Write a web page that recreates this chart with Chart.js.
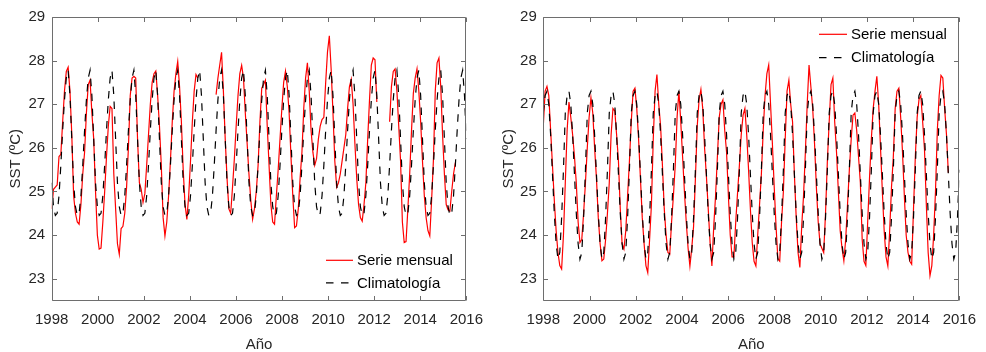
<!DOCTYPE html>
<html><head><meta charset="utf-8">
<script src="https://cdn.jsdelivr.net/npm/chart.js@4/dist/chart.umd.min.js"></script>
<style>
html,body{margin:0;padding:0;background:#fff;}
#wrap{position:relative;width:986px;height:352px;overflow:hidden;}
.box{position:absolute;top:0;width:493px;height:352px;}
canvas{display:block;}
</style></head><body>
<div id="wrap">
<div class="box" style="left:0"><canvas id="c1" width="493" height="352"></canvas></div>
<div class="box" style="left:493px"><canvas id="c2" width="493" height="352"></canvas></div>
</div>
<script>
// ---- axis labels / ticks ----
const startYear = 1998, endYear = 2016;
const xTicks = [1998, 2000, 2002, 2004, 2006, 2008, 2010, 2012, 2014, 2016];
const yTicks = [23, 24, 25, 26, 27, 28, 29];
const seriesNames = ['Serie mensual', 'Climatología'];

// ---- monthly climatology (12 values, repeats each cycle) ----
const climLeft  = [25.2, 24.65, 24.45, 24.5, 24.9, 25.6, 26.4, 27.1, 27.6, 27.78, 27.2, 26.2];
const climRight = [26.8, 27.2, 27.3, 27.0, 26.3, 25.4, 24.5, 23.8, 23.45, 23.6, 24.4, 25.5];

// ---- monthly series, left panel ----
const serieLeft = [
 24.6,25.05,25.1,25.15,25.8,25.85,26.6,27.3,27.75,27.85,27.3,26.3,
 24.9,24.5,24.3,24.25,24.7,25.4,25.9,26.8,27.45,27.55,26.8,26.2,
 25.0,24.0,23.68,23.7,24.3,25.0,25.8,26.5,26.95,26.9,25.4,24.6,
 23.8,23.56,24.15,24.2,24.5,25.1,26.0,27.2,27.6,27.64,27.6,26.2,
 25.2,25.05,24.75,24.95,25.6,26.3,27.0,27.5,27.7,27.76,27.2,26.5,
 25.6,24.4,23.98,24.3,24.9,25.7,26.6,27.3,27.7,27.98,27.4,26.6,
 25.5,24.7,24.36,24.9,25.7,26.6,27.3,27.68,27.6,null,null,null,
 null,null,null,null,null,null,27.22,27.6,27.9,28.19,27.3,26.2,
 25.3,24.6,24.5,25.1,25.75,26.5,27.2,27.7,27.89,27.6,26.8,26.1,
 25.4,24.8,24.36,24.6,25.0,25.6,26.6,27.37,27.45,27.55,26.5,25.6,
 24.7,24.3,24.25,24.9,25.5,26.2,26.9,27.5,27.76,27.4,26.8,25.8,
 24.9,24.17,24.21,24.6,25.3,25.9,26.9,27.6,27.95,27.3,26.4,25.9,
 25.6,25.75,26.2,26.5,26.65,26.7,27.5,28.2,28.57,27.8,26.8,25.7,
 25.1,25.2,25.4,25.7,26.0,26.3,26.9,27.4,27.57,27.0,26.1,25.3,
 24.7,24.4,24.32,24.7,25.2,26.2,27.1,27.9,28.06,28.02,27.05,null,
 null,null,null,null,null,26.6,27.4,27.75,27.81,27.3,26.5,25.7,
 24.3,23.83,23.85,24.6,25.4,26.4,27.25,27.6,27.81,27.3,26.6,25.7,
 24.9,24.4,24.1,23.98,24.8,25.73,27.3,27.95,28.06,27.4,26.3,25.4,
 24.7,24.58,24.55,25.0,25.4,25.66,null,null,null,null,null,null
];

// ---- monthly series, right panel ----
const serieRight = [
 26.5,27.3,27.41,27.2,26.4,25.6,24.8,24.1,23.6,23.3,23.22,24.0,
 25.2,26.4,27.05,26.7,26.3,25.8,25.2,24.3,23.83,23.9,24.5,25.2,
 26.0,26.7,27.15,26.8,26.0,25.3,24.4,23.8,23.41,23.45,23.9,24.5,
 25.2,26.3,26.9,26.85,26.3,25.7,24.6,23.8,23.68,24.1,24.9,25.7,
 26.6,27.3,27.37,26.9,26.2,25.3,24.4,23.8,23.3,23.14,23.9,24.7,
 26.2,27.3,27.68,27.0,26.5,25.6,24.6,24.0,23.6,23.56,24.3,24.9,
 25.6,26.7,27.3,26.6,25.8,25.0,24.3,23.7,23.29,23.7,24.2,25.3,
 26.5,27.1,27.34,26.9,26.0,25.35,24.6,23.83,23.29,24.2,24.9,25.8,
 26.7,27.0,27.1,26.4,25.9,24.9,24.0,23.5,23.5,24.3,24.97,25.6,
 26.3,26.75,26.9,26.3,25.5,24.6,23.83,23.4,23.29,24.0,24.7,25.4,
 26.4,27.2,27.7,27.9,27.0,26.1,25.1,24.2,23.45,23.4,24.3,25.0,
 26.2,27.3,27.55,27.0,26.6,25.4,24.4,23.6,23.26,24.2,24.9,25.9,
 27.0,27.9,27.4,26.9,26.1,25.1,24.3,23.8,23.7,23.6,24.5,25.7,
 26.6,27.45,27.6,26.6,25.9,25.0,24.1,23.7,23.41,23.9,24.7,25.5,
 26.2,26.75,26.8,26.4,25.8,25.2,23.9,23.4,23.3,24.3,25.3,26.2,
 26.9,27.3,27.64,27.0,26.0,25.0,24.1,23.5,23.29,24.1,25.1,25.8,
 26.9,27.3,27.37,26.7,25.9,24.9,24.0,23.6,23.4,23.33,24.6,25.8,
 26.7,27.11,27.2,26.6,25.96,24.7,23.6,23.07,23.3,24.0,25.0,26.4,
 27.2,27.66,27.6,26.9,26.3,25.43,null,null,null,null,null,null
];

// time positions of the monthly samples, spread over the x range
const nSamples = serieLeft.length;
const times = serieLeft.map((_, i) => startYear + i * (endYear - startYear) / (nSamples - 1));
const pts = arr => times.map((t, i) => ({x: t, y: arr[i]}));
const climPts = clim => times.map((t, i) => ({x: t, y: clim[i % clim.length]}));

const FONT = '"Liberation Sans", Arial, Helvetica, sans-serif';
const TXT = '#262626';
const AXC = '#6e6e6e';

const frame = {
  id: 'frame',
  afterDatasetsDraw(chart, args, o) {
    const {ctx, chartArea: a, scales: {x, y}} = chart;
    ctx.save();
    ctx.strokeStyle = AXC; ctx.lineWidth = 1; ctx.setLineDash([]);
    const L = Math.round(a.left) + 0.5, R = Math.round(a.right) - 0.5;
    const T = Math.round(a.top) + 0.5, B = Math.round(a.bottom) - 0.5;
    const len = 4.5;
    ctx.beginPath();
    ctx.rect(L, T, R - L, B - T);
    x.ticks.forEach(t => {
      const p = Math.round(x.getPixelForValue(t.value)) + 0.5;
      ctx.moveTo(p, B); ctx.lineTo(p, B - len);
      ctx.moveTo(p, T); ctx.lineTo(p, T + len);
    });
    y.ticks.forEach(t => {
      const p = Math.round(y.getPixelForValue(t.value)) + 0.5;
      ctx.moveTo(L, p); ctx.lineTo(L + len, p);
      ctx.moveTo(R, p); ctx.lineTo(R - len, p);
    });
    ctx.stroke();
    ctx.restore();
  }
};

const legendIn = {
  id: 'legendIn',
  afterDraw(chart, args, o) {
    const ctx = chart.ctx;
    ctx.save();
    ctx.font = '15px ' + FONT;
    ctx.textBaseline = 'middle';
    ctx.fillStyle = '#000';
    chart.data.datasets.forEach((ds, k) => {
      const yy = o.y + k * o.gap;
      ctx.strokeStyle = ds.borderColor;
      ctx.lineWidth = ds.borderWidth;
      ctx.setLineDash(ds.borderDash || []);
      ctx.beginPath(); ctx.moveTo(o.x, yy); ctx.lineTo(o.x + o.len, yy); ctx.stroke();
      ctx.setLineDash([]);
      ctx.fillText(ds.label, o.x + o.len + o.pad, yy + 0.5);
    });
    ctx.restore();
  }
};

function makeChart(id, serie, clim, cfg) {
  return new Chart(document.getElementById(id), {
    type: 'line',
    data: {
      datasets: [
        {label: seriesNames[0], data: pts(serie), borderColor: '#ff0000', borderWidth: 1.2,
         pointRadius: 0, tension: 0, spanGaps: false, order: 2},
        {label: seriesNames[1], data: climPts(clim), borderColor: '#000000', borderWidth: 1.2,
         borderDash: [7.5, 7.5], pointRadius: 0, tension: 0, order: 1}
      ]
    },
    options: {
      responsive: false, animation: false, devicePixelRatio: 1,
      layout: {padding: {top: 17, right: cfg.padRight, bottom: 0, left: 0}},
      plugins: {legend: {display: false}, tooltip: {enabled: false},
        legendIn: cfg.legend},
      scales: {
        x: {type: 'linear', min: startYear, max: endYear,
          afterBuildTicks: s => { s.ticks = xTicks.map(v => ({value: v})); },
          afterFit: s => { s.height = 51.5; },
          grid: {display: false, drawTicks: false, tickLength: 0}, border: {display: false},
          ticks: {padding: 10, color: TXT, font: {family: FONT, size: 15}, maxRotation: 0,
            callback: v => String(v)},
          title: {display: true, text: 'Año', color: TXT, font: {family: FONT, size: 15},
            padding: {top: 0, bottom: -1.5}}
        },
        y: {type: 'linear', min: 22.5, max: 29,
          afterBuildTicks: s => { s.ticks = yTicks.map(v => ({value: v})); },
          afterFit: s => { s.width = cfg.yWidth; },
          grid: {display: false, drawTicks: false, tickLength: 0}, border: {display: false},
          ticks: {padding: 6.5, color: TXT, font: {family: FONT, size: 15},
            callback: v => String(v)},
          title: {display: true, text: 'SST (ºC)', color: TXT, font: {family: FONT, size: 15},
            padding: {top: 7, bottom: 0}}
        }
      }
    },
    plugins: [frame, legendIn]
  });
}

makeChart('c1', serieLeft, climLeft, {padRight: 22, yWidth: 51.7,
  legend: {x: 326, y: 260.3, gap: 22.6, len: 27, pad: 4}});
makeChart('c2', serieRight, climRight, {padRight: 22.7, yWidth: 50.3,
  legend: {x: 326, y: 34.3, gap: 23.4, len: 28, pad: 4}});
</script>
</body></html>
